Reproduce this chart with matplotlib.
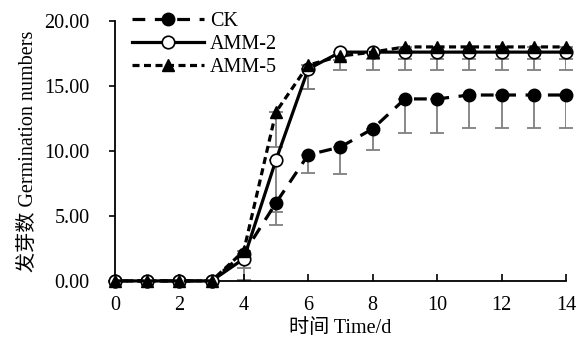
import matplotlib
matplotlib.use("Agg")
import matplotlib.pyplot as plt
import numpy as np

plt.rcParams['font.family'] = ['Liberation Serif', 'Noto Sans CJK SC']

# germination data
days = np.arange(0, 15)
ck = [0, 0, 0, 0, 2.1, 6.0, 9.7, 10.3, 11.7, 14.0, 14.0, 14.3, 14.3, 14.3, 14.3]
ck_err = [0, 0, 0, 0, 0.4, 1.7, 1.4, 2.1, 1.6, 2.6, 2.6, 2.5, 2.5, 2.5, 2.5]
amm2 = [0, 0, 0, 0, 1.7, 9.3, 16.3, 17.6, 17.6, 17.6, 17.6, 17.6, 17.6, 17.6, 17.6]
amm2_err = [0, 0, 0, 0, 1.6, 4.0, 1.5, 1.4, 1.4, 1.4, 1.4, 1.4, 1.4, 1.4, 1.4]
amm5 = [0, 0, 0, 0, 2.3, 13.0, 16.6, 17.3, 17.6, 18.0, 18.0, 18.0, 18.0, 18.0, 18.0]
amm5_err = [0, 0, 0, 0, 1.3, 2.7, 1.8, 0.3, 0.5, 0.9, 0.9, 0.9, 0.9, 0.9, 0.9]

fs = 14.5

fig = plt.figure(figsize=(5.77, 3.43), dpi=100)
ax = fig.add_axes([0.199, 0.181, 0.782, 0.758])

# error bars (lower side only), drawn behind the lines
for y, e in [(ck, ck_err), (amm2, amm2_err), (amm5, amm5_err)]:
    ax.errorbar(days, y, yerr=[e, np.zeros(len(e))], fmt='none', ecolor='#7f7f7f',
                elinewidth=1.3, capsize=5, capthick=1.3, zorder=1)

ax.plot(days, ck, color='black', lw=2.3, dashes=(4, 3), marker='o', ms=9,
        mfc='black', mec='black', label='CK', zorder=3)
ax.plot(days, amm2, color='black', lw=2.3, ls='-', marker='o', ms=9,
        mfc='white', mec='black', mew=1.2, label='AMM-2', zorder=4)
ax.plot(days, amm5, color='black', lw=2.3, dashes=(2.2, 1.4), marker='^', ms=9,
        mfc='black', mec='black', label='AMM-5', zorder=5)

ax.set_xlim(0, 14)
ax.set_ylim(0, 20)
ax.set_xticks(np.arange(0, 15, 2))
ax.set_yticks(np.arange(0, 21, 5))
ax.set_yticklabels(['%.2f' % v for v in np.arange(0, 21, 5)])
ax.spines['top'].set_visible(False)
ax.spines['right'].set_visible(False)
ax.spines['left'].set_linewidth(1.3)
ax.spines['bottom'].set_linewidth(1.3)
ax.tick_params(axis='y', direction='out', length=4, width=1.2, labelsize=fs, pad=14)
ax.tick_params(axis='x', direction='in', length=5, width=1.2, labelsize=fs, pad=11)
for ln in ax.lines:
    ln.set_clip_on(False)

ax.set_xlabel('时间 Time/d', fontsize=fs, labelpad=3)
ax.set_ylabel('发芽数 Germination numbers', fontsize=fs, labelpad=5)

ax.legend(loc='upper left', bbox_to_anchor=(0.015, 1.075), frameon=False, fontsize=fs,
          handlelength=3.6, handletextpad=0.3, labelspacing=0.2, borderpad=0)

fig.savefig('out.png', dpi=100)
